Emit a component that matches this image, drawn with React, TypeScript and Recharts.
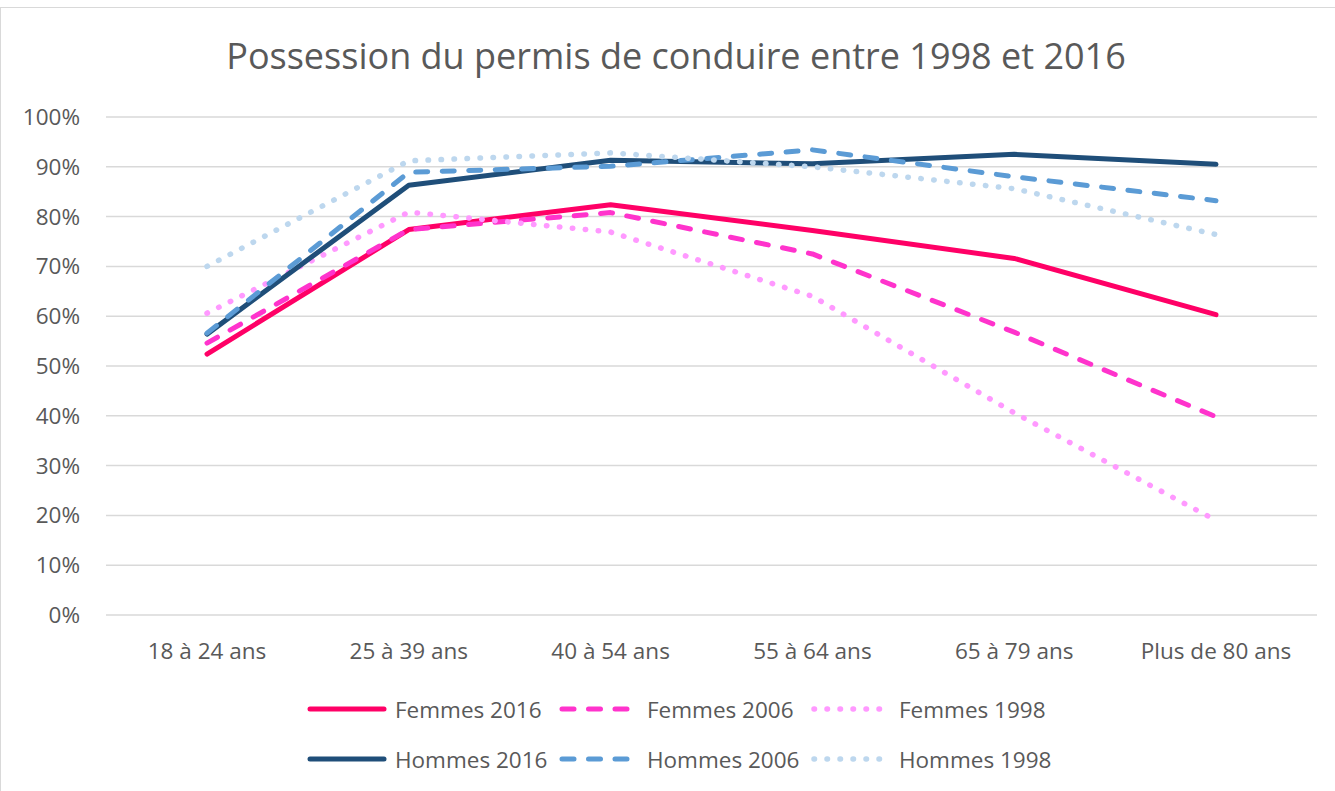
import { CartesianGrid, Line, LineChart, XAxis, YAxis } from "recharts"

const ageGroups = ["18 à 24 ans", "25 à 39 ans", "40 à 54 ans", "55 à 64 ans", "65 à 79 ans", "Plus de 80 ans"]

const femmes2016 = [52.4, 77.4, 82.4, 77.2, 71.6, 60.3]
const femmes2006 = [54.6, 77.4, 80.8, 72.5, 56.8, 39.8]
const femmes1998 = [60.6, 80.9, 76.9, 64.0, 40.6, 19.0]
const hommes2016 = [56.4, 86.3, 91.3, 90.6, 92.5, 90.5]
const hommes2006 = [56.6, 88.9, 90.1, 93.4, 88.0, 83.2]
const hommes1998 = [70.0, 91.2, 92.8, 90.0, 85.6, 76.4]

const yTicks = [0, 10, 20, 30, 40, 50, 60, 70, 80, 90, 100]

const FONT = "'Open Sans', sans-serif"
const TEXT = "#595959"

const series = [
  { key: "f2016", name: "Femmes 2016", values: femmes2016, color: "#FF0066", dash: undefined, w: 5 },
  { key: "f2006", name: "Femmes 2006", values: femmes2006, color: "#FF33CC", dash: "12 14.5", w: 5 },
  { key: "f1998", name: "Femmes 1998", values: femmes1998, color: "#FF99FF", dash: "0.5 12.5", w: 5.5 },
  { key: "h2016", name: "Hommes 2016", values: hommes2016, color: "#1F4E79", dash: undefined, w: 5 },
  { key: "h2006", name: "Hommes 2006", values: hommes2006, color: "#5B9BD5", dash: "12 14.5", w: 5 },
  { key: "h1998", name: "Hommes 1998", values: hommes1998, color: "#BDD7EE", dash: "0.5 12.5", w: 5.5 },
]

const rows = ageGroups.map((age, i) => {
  const row: Record<string, string | number> = { age }
  series.forEach((s) => (row[s.key] = s.values[i]))
  return row
})

function LegendBox() {
  return (
    <div
      style={{
        position: "absolute",
        left: 307,
        top: 690,
        display: "grid",
        gridTemplateColumns: "252px 252px 252px",
        rowGap: 12,
        fontFamily: FONT,
        fontSize: 22.5,
        color: TEXT,
      }}
    >
      {series.map((s) => (
        <div key={s.key} style={{ display: "flex", alignItems: "center", height: 38, whiteSpace: "nowrap" }}>
          <svg width={80} height={10} style={{ marginRight: 8 }}>
            <line
              x1={3}
              y1={5}
              x2={77}
              y2={5}
              stroke={s.color}
              strokeWidth={s.w}
              strokeLinecap="round"
              strokeDasharray={s.dash}
            />
          </svg>
          <span>{s.name}</span>
        </div>
      ))}
    </div>
  )
}

export default function App() {
  return (
    <div style={{ position: "absolute", left: 0, top: 0, width: 1335, height: 791, background: "#fff" }}>
      <div
        style={{
          position: "absolute",
          left: 0,
          top: 7,
          width: 1340,
          height: 800,
          border: "1px solid #d9d9d9",
          boxSizing: "border-box",
        }}
      />
      <div
        style={{
          position: "absolute",
          left: 0,
          top: 32,
          width: 1352,
          textAlign: "center",
          fontFamily: FONT,
          fontSize: 36,
          color: TEXT,
          lineHeight: "48px",
        }}
      >
        Possession du permis de conduire entre 1998 et 2016
      </div>
      <div style={{ position: "absolute", left: 0, top: 0 }}>
        <LineChart width={1335} height={791} data={rows} margin={{ top: 117, right: 18, bottom: 136, left: 16 }}>
          <CartesianGrid stroke="#d9d9d9" strokeWidth={1.5} vertical={false} />
          <XAxis
            dataKey="age"
            height={40}
            padding={{ left: 101, right: 101 }}
            axisLine={false}
            tickLine={false}
            tickMargin={22}
            tick={{ fill: TEXT, fontSize: 22.5, fontFamily: FONT }}
          />
          <YAxis
            width={90}
            domain={[0, 100]}
            ticks={yTicks}
            tickFormatter={(v) => `${v}%`}
            axisLine={false}
            tickLine={false}
            tickSize={0}
            tickMargin={26}
            tick={{ fill: TEXT, fontSize: 22.5, fontFamily: FONT }}
          />
          {series.map((s) => (
            <Line
              key={s.key}
              dataKey={s.key}
              name={s.name}
              stroke={s.color}
              strokeWidth={s.w}
              strokeDasharray={s.dash}
              strokeLinecap="round"
              strokeLinejoin="round"
              dot={false}
              activeDot={false}
              isAnimationActive={false}
            />
          ))}
        </LineChart>
      </div>
      <LegendBox />
    </div>
  )
}
